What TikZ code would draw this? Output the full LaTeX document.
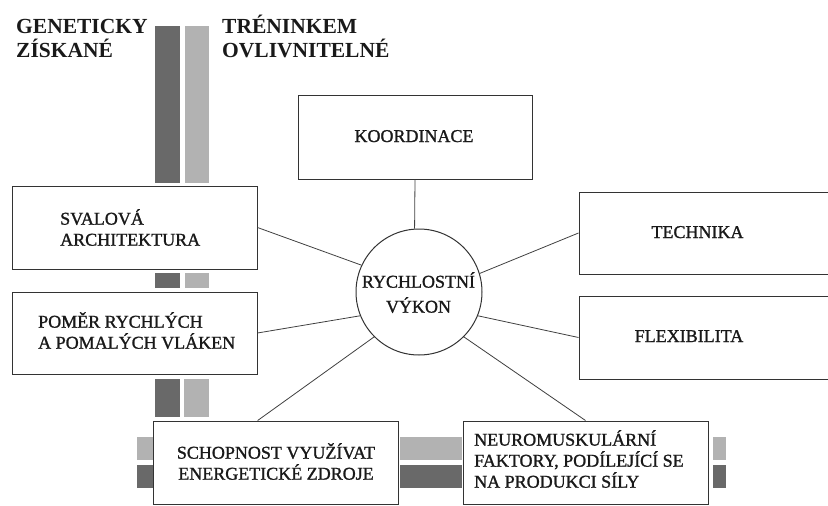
\documentclass[tikz,border=0pt]{standalone}
\usepackage{fontspec}
\setmainfont{Liberation Serif}
% box labels: regular widths, slightly heavier strokes
\newfontfamily\boxfont{Liberation Serif}[BoldFont={Liberation Serif}, BoldFeatures={FakeBold=1.2}]
\begin{document}
\begin{tikzpicture}[x=1pt, y=-1pt,
  box/.style={draw=black!80, line width=1pt, rectangle, inner sep=0pt, fill=white},
  conn/.style={draw=black!75, line width=0.8pt},
  lbl/.style={inner sep=0pt, font=\boxfont\bfseries\fontsize{18}{21}\selectfont, text=black!90},
  head/.style={inner sep=0pt, font=\fontsize{21.5}{24}\selectfont\bfseries, text=black!90, align=left},
  darkbar/.style={fill=black!59},
  lightbar/.style={fill=black!30}]
\useasboundingbox (0,0) rectangle (828,506);
\clip (0,0) rectangle (828,506);

% headings
\node[head, anchor=north west] (genet) at (16,19) {GENETICKY\\ZÍSKANÉ};
\node[head, anchor=north west] (trenink) at (222,14.5) {TRÉNINKEM\\OVLIVNITELNÉ};

% grey bars: dark = genetic, light = trainable
\fill[darkbar]  (155,26) rectangle (180,183);
\fill[lightbar] (185,26) rectangle (209,183);
\fill[darkbar]  (155,273) rectangle (180,288);
\fill[lightbar] (185,273) rectangle (209,288);
\fill[darkbar]  (155,379) rectangle (180,417);
\fill[lightbar] (184,379) rectangle (209,417);
\fill[lightbar] (137,437) rectangle (153,460);
\fill[darkbar]  (137,465) rectangle (153,488);
\fill[lightbar] (400,437) rectangle (462,460);
\fill[darkbar]  (400,465) rectangle (462,488);
\fill[lightbar] (713,437) rectangle (726,460);
\fill[darkbar]  (713,465) rectangle (726,488);

% boxes
\node[box, minimum width=234pt, minimum height=84pt] (koord) at (415,137) {};
\node[box, minimum width=245pt, minimum height=83pt] (sval) at (134.5,227.5) {};
\node[box, minimum width=245pt, minimum height=82pt] (pomer) at (134.5,333) {};
\node[box, minimum width=261pt, minimum height=82pt] (tech) at (709.5,233) {};
\node[box, minimum width=261pt, minimum height=83pt] (flex) at (709.5,337.5) {};
\node[box, minimum width=245pt, minimum height=83pt] (schop) at (275.5,462.5) {};
\node[box, minimum width=245pt, minimum height=83pt] (neuro) at (585.5,462.5) {};

% central circle
\node[draw=black!80, line width=1pt, circle, minimum size=126pt, inner sep=0pt, fill=white] (rv) at (419,292) {};

% box texts
\node[lbl, anchor=base] (tkoord) at (414,142) {KOORDINACE};
\node[lbl, anchor=north west, align=left] (tsval) at (60,209) {SVALOVÁ\\ ARCHITEKTURA};
\node[lbl, anchor=north west, align=left] (tpomer) at (38,312) {POMĚR RYCHLÝCH\\A POMALÝCH VLÁKEN};
\node[lbl, anchor=base] (ttech) at (697.5,238) {TECHNIKA};
\node[lbl, anchor=base] (tflex) at (689,342) {FLEXIBILITA};
\node[lbl, anchor=north, align=center] (tschop) at (276,443) {SCHOPNOST VYUŽÍVAT\\ENERGETICKÉ ZDROJE};
\node[lbl, anchor=north west, align=left] (tneuro) at (474,430) {NEUROMUSKULÁRNÍ\\FAKTORY, PODÍLEJÍCÍ SE\\NA PRODUKCI SÍLY};
\node[lbl, anchor=north, align=center, font=\boxfont\bfseries\fontsize{18}{25}\selectfont] (trv) at (418.5,272) {RYCHLOSTNÍ\\VÝKON};

% connectors
\draw[conn] (koord.south) -- (rv.94);
\draw[conn] (sval.east) -- (rv.155);
\draw[conn] (pomer.east) -- (rv.202);
\draw[conn] (schop.113) -- (rv.225);
\draw[conn] (neuro.north) -- (rv.-45);
\draw[conn] (tech.west) -- (rv.17);
\draw[conn] (flex.west) -- (rv.-22);
\end{tikzpicture}
\end{document}
